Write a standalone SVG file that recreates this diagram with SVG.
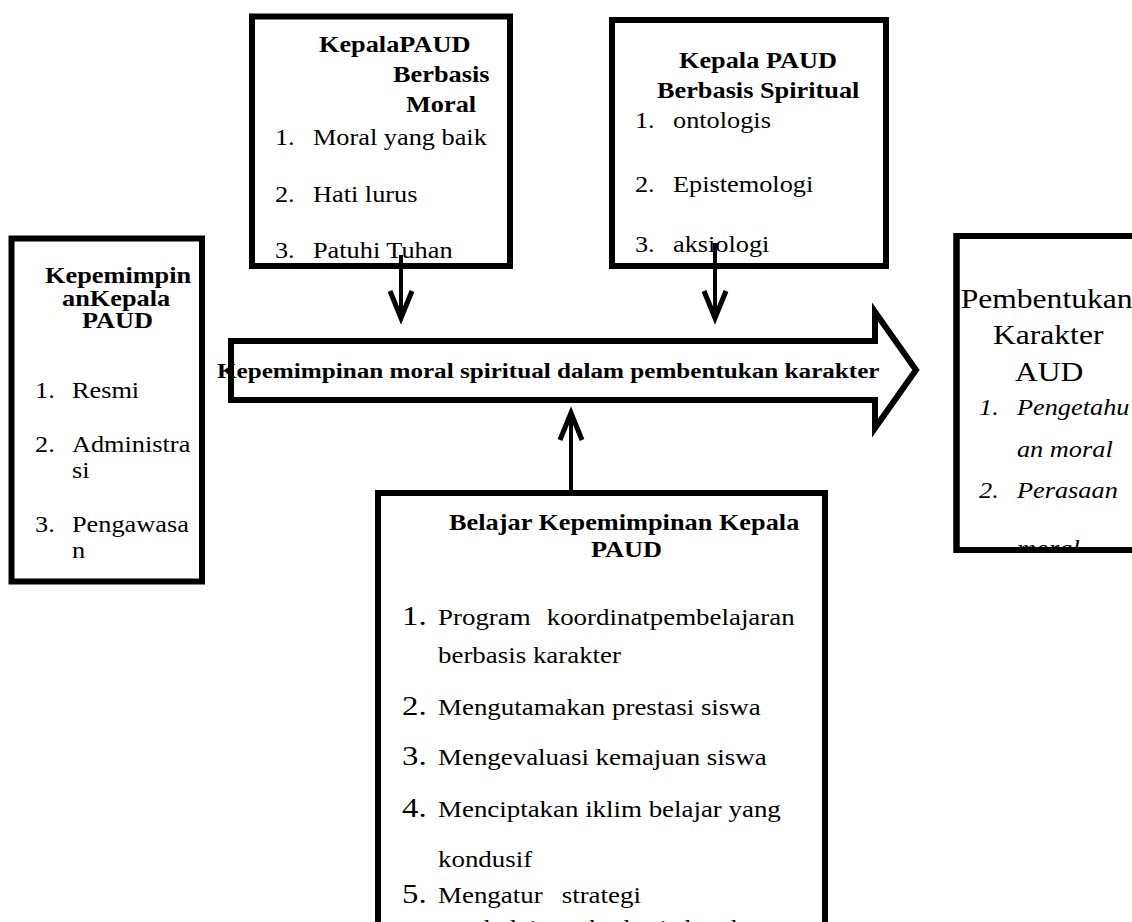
<svg xmlns="http://www.w3.org/2000/svg" width="1132" height="922" viewBox="0 0 1132 922">
<style>
.box{fill:#fff;stroke:#000;stroke-width:6}
.t{font-family:"Liberation Serif","Times New Roman",serif;fill:#000;font-size:22.5px}
.b{font-weight:bold}
.i{font-style:italic}
.big{font-size:27px}
.it{font-size:23px}
.num{font-size:28px}
.conn{stroke:#000;stroke-width:4;fill:none}
.arrow{fill:none;stroke:#000;stroke-width:6;stroke-linejoin:miter;stroke-miterlimit:10}
</style>
<defs>
<marker id="head" markerUnits="userSpaceOnUse" orient="auto" refX="0" refY="0" markerWidth="40" markerHeight="40" overflow="visible">
<path d="M-27,-11 L0,0 L-27,11" fill="none" stroke="#000" stroke-width="5" stroke-linejoin="miter" stroke-miterlimit="10"/>
</marker>
<clipPath id="clipR"><rect x="959" y="239" width="200" height="308"/></clipPath>
</defs>
<rect x="0" y="0" width="1132" height="922" fill="#fff"/>

<g id="node-moral">
<rect class="box" x="252" y="16.5" width="258" height="249.5"/>
<g transform="scale(1.17 1)">
<text class="t b" x="272.6" y="52">KepalaPAUD</text>
<text class="t b" x="335.9" y="82">Berbasis</text>
<text class="t b" x="347" y="112">Moral</text>
<text class="t" x="235" y="145">1.</text><text class="t" x="267.5" y="145">Moral yang baik</text>
<text class="t" x="235" y="202">2.</text><text class="t" x="267.5" y="202">Hati lurus</text>
<text class="t" x="235" y="258">3.</text><text class="t" x="267.5" y="258">Patuhi Tuhan</text>
</g>
</g>

<g id="node-spiritual">
<rect class="box" x="612" y="20" width="274" height="246"/>
<g transform="scale(1.17 1)">
<text class="t b" x="580.3" y="68">Kepala PAUD</text>
<text class="t b" x="561.5" y="98">Berbasis Spiritual</text>
<text class="t" x="542.7" y="128">1.</text><text class="t" x="575.2" y="128">ontologis</text>
<text class="t" x="542.7" y="192">2.</text><text class="t" x="575.2" y="192">Epistemologi</text>
<text class="t" x="542.7" y="252">3.</text><text class="t" x="575.2" y="252">aksiologi</text>
</g>
</g>

<g id="node-kepemimpinan">
<rect class="box" x="11.5" y="238.5" width="190.5" height="343"/>
<g transform="scale(1.17 1)">
<text class="t b" x="38.5" y="283">Kepemimpin</text>
<text class="t b" x="53" y="306">anKepala</text>
<text class="t b" x="70.1" y="328">PAUD</text>
<text class="t" x="29.9" y="398">1.</text><text class="t" x="61.5" y="398">Resmi</text>
<text class="t" x="29.9" y="452">2.</text><text class="t" x="61.5" y="452">Administra</text>
<text class="t" x="61.5" y="478">si</text>
<text class="t" x="29.9" y="532">3.</text><text class="t" x="61.5" y="532">Pengawasa</text>
<text class="t" x="61.5" y="558">n</text>
</g>
</g>

<g id="node-pembentukan">
<rect class="box" x="956.5" y="236" width="200" height="314"/>
<g clip-path="url(#clipR)">
<g transform="scale(1.17 1)">
<text class="t big" x="821.1" y="308">Pembentukan</text>
<text class="t big" x="848.7" y="344">Karakter</text>
<text class="t big" x="867.5" y="381">AUD</text>
<text class="t i" x="836.8" y="415">1.</text><text class="t i" x="869.2" y="415">Pengetahu</text>
<text class="t i" x="869.2" y="457">an moral</text>
<text class="t i" x="836.8" y="498">2.</text><text class="t i" x="869.2" y="498">Perasaan</text>
<text class="t i" x="869.2" y="556">moral</text>
</g>
</g>
<rect x="956.5" y="236" width="200" height="314" fill="none" stroke="#000" stroke-width="6"/>
</g>

<g id="node-belajar">
<rect class="box" x="378" y="493" width="447" height="500"/>
<g transform="scale(1.17 1)">
<text class="t b" x="383.8" y="530">Belajar Kepemimpinan Kepala</text>
<text class="t b" x="505.1" y="557">PAUD</text>
<text class="t num" x="343.6" y="625">1.</text><text class="t it" x="374.4" y="625">Program</text><text class="t it" x="467.3" y="625">koordinatpembelajaran</text>
<text class="t it" x="374.4" y="663">berbasis karakter</text>
<text class="t num" x="343.6" y="715">2.</text><text class="t it" x="374.4" y="715">Mengutamakan prestasi siswa</text>
<text class="t num" x="343.6" y="765">3.</text><text class="t it" x="374.4" y="765">Mengevaluasi kemajuan siswa</text>
<text class="t num" x="343.6" y="817">4.</text><text class="t it" x="374.4" y="817">Menciptakan iklim belajar yang</text>
<text class="t it" x="374.4" y="867">kondusif</text>
<text class="t num" x="343.6" y="903">5.</text><text class="t it" x="374.4" y="903">Mengatur</text><text class="t it" x="480.1" y="903">strategi</text>
<text class="t it" x="374.4" y="936">pembelajaran berbasis karakter</text>
</g>
</g>

<g id="node-main-arrow">
<path d="M231,341 H875 V312 L916,370 L875,428 V400 H231 Z" fill="#fff"/>
<g transform="scale(1.17 1)">
<text class="t b" x="185.5" y="378" style="font-size:21.5px">Kepemimpinan moral spiritual dalam pembentukan karakter</text>
</g>
<path class="arrow" d="M231,341 H875 V312 L916,370 L875,428 V400 H231 Z"/>
</g>

<g id="connectors">
<line class="conn" x1="401" y1="255" x2="401" y2="318" marker-end="url(#head)"/>
<line class="conn" x1="715" y1="243" x2="715" y2="318" marker-end="url(#head)"/>
<line class="conn" x1="571" y1="490" x2="571" y2="413" marker-end="url(#head)"/>
</g>
</svg>
